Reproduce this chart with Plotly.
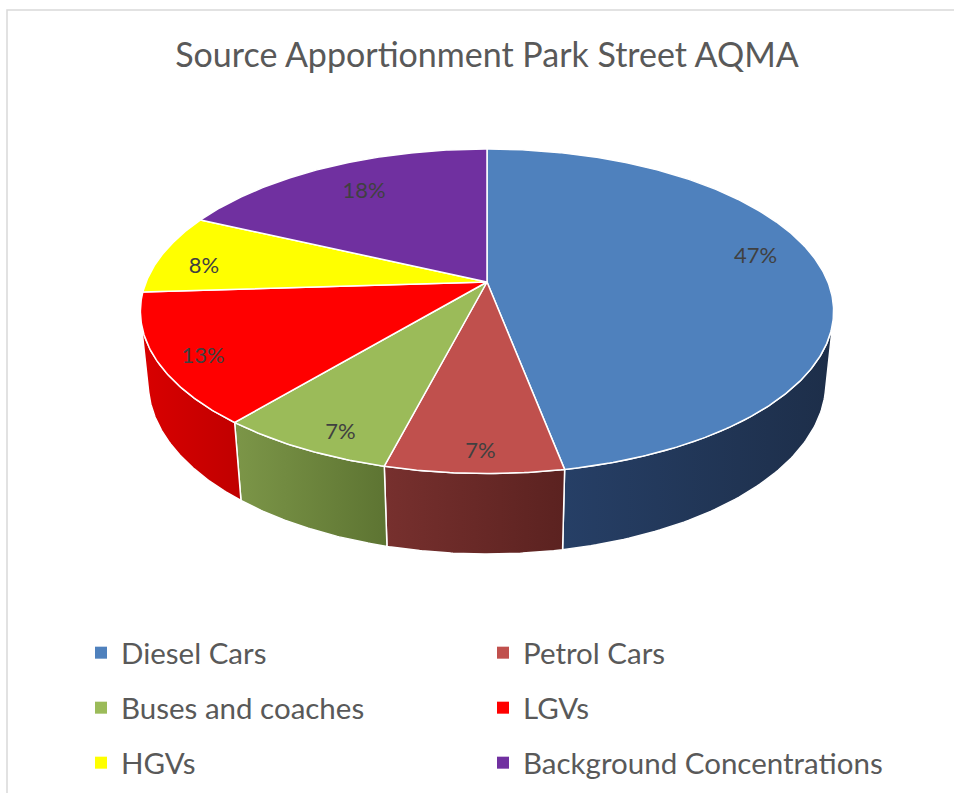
import numpy as np
import plotly.graph_objects as go

# ---------------- data ----------------
categories = ["Diesel Cars", "Petrol Cars", "Buses and coaches", "LGVs", "HGVs",
              "Background Concentrations"]
values = [47, 7, 7, 13, 8, 18]
title_text = "Source Apportionment Park Street AQMA"

# ---------------- style ----------------
colors = ["#4F81BD", "#C0504D", "#9BBB59", "#FF0000", "#FFFF00", "#7030A0"]
wall_light = ["#263F66", "#77302E", "#7C9648", "#D90000", "#C4C400", "#55257F"]
wall_dark = ["#1D2E49", "#5B2220", "#5D7432", "#C00000", "#A3A300", "#3F1A5E"]
label_r = [0.825, 0.91, 0.9, 0.885, 0.85, 0.75]
label_dphi = [-5.6, -0.8, -3.0, -3.0, -4.3, 0.0]
legend_rows = [0, 0, 1, 1, 2, 2]
FONT = "Lato"

W, Hpx = 954, 793
# projection geometry (pixels)
CX, CY = 487, 282
F = 1678.0
D = 4.922
ALPHA = np.arcsin(0.4605)
THICK = 0.238
S, C = np.sin(ALPHA), np.cos(ALPHA)


def project(X, Y, Z):
    yc = Y * C + Z * S
    zc = -Y * S + Z * C + D
    return CX + F * X / zc, CY - F * yc / zc


def arc(a, b, y, n=80):
    t = np.radians(np.linspace(a, b, n))
    return project(np.sin(t), np.full_like(t, y), np.cos(t))


total = float(sum(values))
bounds = np.concatenate([[0], np.cumsum(values)]) / total * 360.0
vis_lim = np.degrees(np.arccos(-1.0 / (D * C)))  # front-facing wall limits
vis_lo, vis_hi = vis_lim, 360 - vis_lim

fig = go.Figure()

# side walls
for i in range(len(values)):
    a, b = bounds[i], bounds[i + 1]
    lo, hi = max(a, vis_lo), min(b, vis_hi)
    if hi <= lo:
        continue
    tx, ty = arc(lo, hi, 0.0)
    bx, by = arc(hi, lo, -THICK)
    xs = np.concatenate([tx, bx, tx[:1]])
    ys = np.concatenate([ty, by, ty[:1]])
    fig.add_trace(go.Scatter(
        x=xs, y=ys, mode="lines", fill="toself",
        fillgradient=dict(type="horizontal",
                          colorscale=[[0, wall_light[i]], [1, wall_dark[i]]]),
        line=dict(color="white", width=1.5),
        hoverinfo="skip", showlegend=False))

# top faces
cx0, cy0 = project(0.0, 0.0, 0.0)
for i in range(len(values)):
    a, b = bounds[i], bounds[i + 1]
    ax_, ay_ = arc(a, b, 0.0, n=max(6, int((b - a) * 2)))
    xs = np.concatenate([[cx0], ax_, [cx0]])
    ys = np.concatenate([[cy0], ay_, [cy0]])
    fig.add_trace(go.Scatter(
        x=xs, y=ys, mode="lines", fill="toself", fillcolor=colors[i],
        line=dict(color="white", width=1.5),
        hoverinfo="skip", showlegend=False))

# data labels
lx, ly, lt = [], [], []
for i, v in enumerate(values):
    mid = np.radians((bounds[i] + bounds[i + 1]) / 2 + label_dphi[i])
    r = label_r[i]
    px, py = project(r * np.sin(mid), 0.0, r * np.cos(mid))
    lx.append(px)
    ly.append(py)
    lt.append(f"{round(v / total * 100)}%")
fig.add_trace(go.Scatter(x=lx, y=ly, mode="text", text=lt,
                         textfont=dict(family=FONT, size=22, color="#404040"),
                         hoverinfo="skip", showlegend=False))

# legend entries
legend_names = ["legend", "legend2", "legend3"]
for i, cat in enumerate(categories):
    fig.add_trace(go.Scatter(
        x=[-500], y=[-500], mode="markers", name=cat,
        marker=dict(symbol="square", size=12, color=colors[i]),
        legend=legend_names[legend_rows[i]], hoverinfo="skip"))

row_y = [653, 708, 763]
leg_common = dict(orientation="h", x=81 / W, xanchor="left", yanchor="middle",
                  bgcolor="rgba(0,0,0,0)", borderwidth=0,
                  font=dict(family=FONT, size=29.5, color="#595959"),
                  entrywidth=357, entrywidthmode="pixels", traceorder="normal")

fig.update_layout(
    width=W, height=Hpx, autosize=False,
    margin=dict(l=0, r=0, t=0, b=0),
    paper_bgcolor="white", plot_bgcolor="white",
    showlegend=True,
    title=dict(text=title_text, x=487 / W, xanchor="center",
               y=1 - 55 / Hpx, yanchor="middle",
               font=dict(family=FONT, size=34, color="#595959")),
    legend=dict(y=1 - row_y[0] / Hpx, **leg_common),
    legend2=dict(y=1 - row_y[1] / Hpx, **leg_common),
    legend3=dict(y=1 - row_y[2] / Hpx, **leg_common),
    xaxis=dict(range=[0, W], visible=False, fixedrange=True),
    yaxis=dict(range=[Hpx, 0], visible=False, fixedrange=True),
    shapes=[dict(type="rect", xref="paper", yref="paper",
                 x0=7 / W, x1=1.02, y0=-0.02, y1=1 - 10 / Hpx,
                 line=dict(color="#D9D9D9", width=1.5), fillcolor="rgba(0,0,0,0)",
                 layer="below")],
)

fig.write_html("out.html",
               config={"displayModeBar": False},
               post_script="document.body.style.margin='0';"
                           "document.body.style.overflow='hidden';")
